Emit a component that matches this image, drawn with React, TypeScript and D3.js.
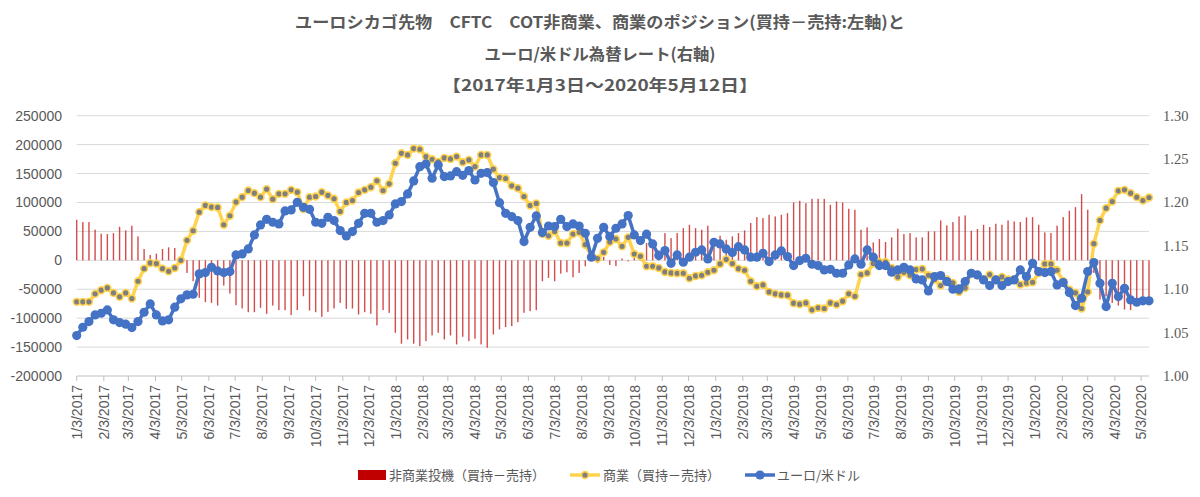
import React from "react";
import * as d3 from "d3";

const W = 1200;
const H = 497;

const titleLines = [
  "ユーロシカゴ先物　CFTC　COT非商業、商業のポジション(買持－売持:左軸)と",
  "ユーロ/米ドル為替レート(右軸)",
  "【2017年1月3日～2020年5月12日】",
];

const legendLabels = ["非商業投機（買持－売持）", "商業（買持－売持）", "ユーロ/米ドル"];

const startDate = "2017-01-03";
const endDate = "2020-05-12";

const leftTicks = [-200000, -150000, -100000, -50000, 0, 50000, 100000, 150000, 200000, 250000];
const rightTicks = [1.0, 1.05, 1.1, 1.15, 1.2, 1.25, 1.3];

// 非商業投機（買持－売持） weekly
const nonCommercial = [
  70100, 66100, 66100, 52900, 46000, 45400, 47100, 58000, 51700, 59800,
  41400, 19500, 9200, 11500, 19500, 22400, 21300, -2000, -21800, -36200,
  -64900, -72400, -73600, -78200, -43700, -57500, -77600, -83300, -89700, -89700,
  -82200, -92500, -78200, -86200, -86200, -94800, -86200, -62100, -86800, -89700,
  -97700, -89100, -83300, -73600, -83900, -83300, -93700, -89700, -92500, -112600,
  -86200, -90800, -125300, -144200, -136800, -144200, -148300, -139700, -129900, -125300,
  -136800, -129900, -145400, -132200, -139700, -135600, -145400, -151100, -128200, -119500,
  -115500, -113800, -106900, -90800, -87900, -86200, -36200, -30500, -36200, -23000,
  -20700, -29300, -21800, -10300, 2000, -5000, 6000, -8000, -10000, 3000,
  -2000, 4000, 8000, 29900, 34500, 17200, 47100, 38500, 47100, 55700,
  61500, 55700, 52900, 59800, 33900, 42500, 35600, 41400, 47100, 51700,
  64400, 74700, 73000, 78700, 75900, 78700, 81600, 100000, 102900, 98800,
  106300, 106300, 106300, 96000, 101700, 100000, 89100, 87400, 52900, 56900,
  31000, 36800, 31600, 39700, 54600, 45400, 47100, 39700, 39700, 50000,
  50000, 69000, 60300, 66100, 75900, 77600, 51100, 54000, 61500, 57500,
  63200, 61500, 69000, 67200, 66100, 74100, 74700, 61500, 48300, 47100,
  59800, 74700, 85600, 92000, 114400, 87400, -21800, -67800, -62100, -73600,
  -78200, -85100, -86200, -74700, -66100, -66100,
];

// 商業（買持－売持） weekly
const commercial = [
  -71800, -71800, -71800, -58000, -51700, -47700, -56300, -63200, -56300, -66100,
  -36200, -14400, -4600, -5700, -14400, -19000, -13200, 0, 34500, 51100,
  83300, 94800, 92000, 91400, 61500, 77000, 100600, 109200, 120700, 116100,
  109200, 123000, 105700, 114900, 114900, 121800, 117800, 88500, 109200, 110300,
  117800, 112100, 106300, 84500, 100000, 103400, 117200, 121800, 126400, 137400,
  120700, 132200, 167800, 185000, 182200, 193100, 192000, 179300, 174700, 170100,
  177000, 175300, 179300, 169500, 173500, 162000, 182200, 182200, 157500, 143100,
  141400, 128800, 124700, 110300, 94800, 98300, 46000, 42500, 50000, 29900,
  29900, 45400, 48300, 27000, 7000, 3000, 13800, 31600, 36800, 24100,
  39700, 10900, 7000, -10300, -10300, -13200, -20100, -21800, -22400, -22400,
  -31000, -27000, -25900, -20700, -17200, -6300, 1700, -5700, -14400, -17200,
  -36200, -44800, -42500, -54600, -58000, -59800, -60300, -74100, -75900, -73600,
  -85600, -82200, -83300, -73600, -76400, -70700, -58000, -62100, -24700, -21800,
  -5700, -2900, -2900, -13200, -28700, -20700, -25900, -16100, -14900, -25900,
  -33300, -43700, -33300, -39100, -54600, -47700, -21800, -25900, -33300, -24700,
  -33300, -28700, -33300, -33300, -42000, -39100, -37900, -21800, -6300, -6300,
  -17200, -36200, -50600, -56300, -83300, -54600, 28700, 69000, 90200, 101700,
  120100, 121800, 116100, 109200, 103400, 108600,
];

// ユーロ/米ドル weekly
const eurusd = [
  1.0466, 1.0562, 1.0627, 1.0704, 1.0723, 1.0762, 1.0647, 1.0616, 1.0597, 1.0558,
  1.0627, 1.0735, 1.0831, 1.0704, 1.0635, 1.0647, 1.0793, 1.0889, 1.0935, 1.0942,
  1.1177, 1.1192, 1.1253, 1.1211, 1.1192, 1.1203, 1.1395, 1.1407, 1.1464, 1.1626,
  1.1741, 1.1806, 1.1772, 1.1753, 1.1902, 1.1914, 1.2002, 1.1945, 1.1921, 1.1772,
  1.176, 1.1829, 1.1791, 1.1676, 1.1614, 1.1664, 1.176, 1.1875, 1.1875, 1.1772,
  1.1791, 1.1856, 1.1983, 1.201, 1.2098, 1.2248, 1.2413, 1.2444, 1.2279, 1.2432,
  1.2298, 1.2306, 1.2355, 1.2313, 1.2367, 1.2259, 1.2336, 1.2344, 1.2229, 1.1998,
  1.1875, 1.1837, 1.1791, 1.1549, 1.1714, 1.1845, 1.1653, 1.1729, 1.1722, 1.1806,
  1.1722, 1.1753, 1.1729, 1.1645, 1.1369, 1.1587, 1.1714, 1.1607, 1.1703, 1.1753,
  1.1849, 1.1626, 1.1561, 1.1634, 1.1522, 1.1388, 1.1445, 1.1299, 1.1395, 1.1311,
  1.1369, 1.1426, 1.1453, 1.1349, 1.1541, 1.1522, 1.1465, 1.1422, 1.1491, 1.1453,
  1.1369, 1.1369, 1.1415, 1.1319, 1.1395, 1.1441, 1.1376, 1.1273, 1.133, 1.1357,
  1.1288, 1.1273, 1.1223, 1.123, 1.1184, 1.1184, 1.128, 1.1349, 1.1288, 1.1453,
  1.1369, 1.1273, 1.1273, 1.1196, 1.1223, 1.1253, 1.1223, 1.1119, 1.1107, 1.0981,
  1.1146, 1.1157, 1.1088, 1.1, 1.1004, 1.1088, 1.1184, 1.1165, 1.1107, 1.1042,
  1.1107, 1.1042, 1.1088, 1.1107, 1.1223, 1.1146, 1.1299, 1.1203, 1.1192, 1.1203,
  1.105, 1.1077, 1.0962, 1.0812, 1.0896, 1.1203, 1.1307, 1.1069, 1.08, 1.1069,
  1.0915, 1.1011, 1.0877, 1.085, 1.0866, 1.0866,
];

const COLORS = {
  bar: "#C00000",
  yellow: "#FFD34E",
  marker: "#7F7F7F",
  blue: "#4472C4",
  grid: "#D9D9D9",
  text: "#595959",
};

const plot = { left: 76.7, right: 1149, top: 115.7, bottom: 376 };

export default function App() {
  const t0 = d3.timeParse("%Y-%m-%d")(startDate) as Date;
  const t1 = d3.timeParse("%Y-%m-%d")(endDate) as Date;
  const dates = eurusd.map((_, i) => d3.timeDay.offset(t0, i * 7));

  const x = d3.scaleTime().domain([t0, t1]).range([plot.left, plot.right]);
  const yL = d3.scaleLinear().domain([-200000, 250000]).range([plot.bottom, plot.top]);
  const yR = d3.scaleLinear().domain([1.0, 1.3]).range([plot.bottom, plot.top]);

  const monthTicks = d3
    .timeMonth.range(d3.timeMonth.floor(t0), t1)
    .map((m) => d3.timeDay.offset(m, 2))
    .filter((d) => d >= t0 && d <= t1);
  const fmt = d3.timeFormat("%-m/%-d/%Y");

  const lineL = d3
    .line<number>()
    .x((_, i) => x(dates[i]))
    .y((v) => yL(v));
  const lineR = d3
    .line<number>()
    .x((_, i) => x(dates[i]))
    .y((v) => yR(v));

  const jp = "'Noto Sans CJK JP', 'Noto Sans', sans-serif";
  const barW = 1.4;
  const titleY = [28, 60, 91];
  const titleLen = [610, 231, 316];

  return (
    <svg
      width={W}
      height={H}
      style={{ position: "absolute", left: 0, top: 0, background: "#fff" }}
      fontFamily={jp}
    >
      {/* title */}
      {titleLines.map((t, i) => (
        <text
          key={i}
          x={600}
          y={titleY[i]}
          textAnchor="middle"
          fontSize={16}
          fontWeight="bold"
          fill={COLORS.text}
          textLength={titleLen[i]}
          lengthAdjust="spacingAndGlyphs"
        >
          {t}
        </text>
      ))}

      {/* gridlines */}
      {leftTicks.map((v) => (
        <line
          key={v}
          x1={plot.left}
          x2={plot.right}
          y1={yL(v)}
          y2={yL(v)}
          stroke={v === -200000 ? "#BFBFBF" : COLORS.grid}
          strokeWidth={1}
        />
      ))}

      {/* left axis labels */}
      {leftTicks.map((v) => (
        <text
          key={v}
          x={62}
          y={yL(v) + 5}
          textAnchor="end"
          fontSize={14}
          fontFamily="'Liberation Sans', Arial, sans-serif"
          fill={COLORS.text}
        >
          {v}
        </text>
      ))}

      {/* right axis labels */}
      {rightTicks.map((v) => (
        <text
          key={v}
          x={1163}
          y={yR(v) + 5}
          textAnchor="start"
          fontSize={14.5}
          fontFamily="'Liberation Serif', 'DejaVu Serif', serif"
          fill={COLORS.text}
        >
          {v.toFixed(2)}
        </text>
      ))}

      {/* x ticks and labels */}
      {monthTicks.map((d) => (
        <g key={+d}>
          <line x1={x(d)} x2={x(d)} y1={plot.bottom} y2={plot.bottom + 5} stroke="#BFBFBF" />
          <text
            transform={`translate(${x(d) + 5},${plot.bottom + 9}) rotate(-90)`}
            textAnchor="end"
            fontSize={14}
            fontFamily="'Liberation Sans', Arial, sans-serif"
            fill={COLORS.text}
          >
            {fmt(d)}
          </text>
        </g>
      ))}

      {/* bars */}
      {nonCommercial.map((v, i) => (
        <rect
          key={i}
          x={x(dates[i]) - barW / 2}
          width={barW}
          y={Math.min(yL(v), yL(0))}
          height={Math.abs(yL(v) - yL(0))}
          fill={COLORS.bar}
          opacity={0.7}
        />
      ))}

      {/* commercial line */}
      <path d={lineL(commercial) || ""} fill="none" stroke={COLORS.yellow} strokeWidth={3.5} strokeLinejoin="round" />
      {commercial.map((v, i) => (
        <circle
          key={i}
          cx={x(dates[i])}
          cy={yL(v)}
          r={3.4}
          fill={COLORS.marker}
          stroke={COLORS.yellow}
          strokeWidth={1.6}
        />
      ))}

      {/* eurusd line */}
      <path d={lineR(eurusd) || ""} fill="none" stroke={COLORS.blue} strokeWidth={3.5} strokeLinejoin="round" />
      {eurusd.map((v, i) => (
        <circle key={i} cx={x(dates[i])} cy={yR(v)} r={4.6} fill={COLORS.blue} />
      ))}

      {/* legend */}
      <g fontSize={13} fill={COLORS.text}>
        <rect x={358} y={470} width={28} height={10} fill={COLORS.bar} />
        <text x={389} y={480}>{legendLabels[0]}</text>
        <line x1={570} x2={600} y1={475} y2={475} stroke={COLORS.yellow} strokeWidth={3.5} />
        <circle cx={585} cy={475} r={3.4} fill={COLORS.marker} stroke={COLORS.yellow} strokeWidth={1.6} />
        <text x={603} y={480}>{legendLabels[1]}</text>
        <line x1={745} x2={775} y1={475} y2={475} stroke={COLORS.blue} strokeWidth={3.5} />
        <circle cx={760} cy={475} r={4.6} fill={COLORS.blue} />
        <text x={777} y={480}>{legendLabels[2]}</text>
      </g>
    </svg>
  );
}
